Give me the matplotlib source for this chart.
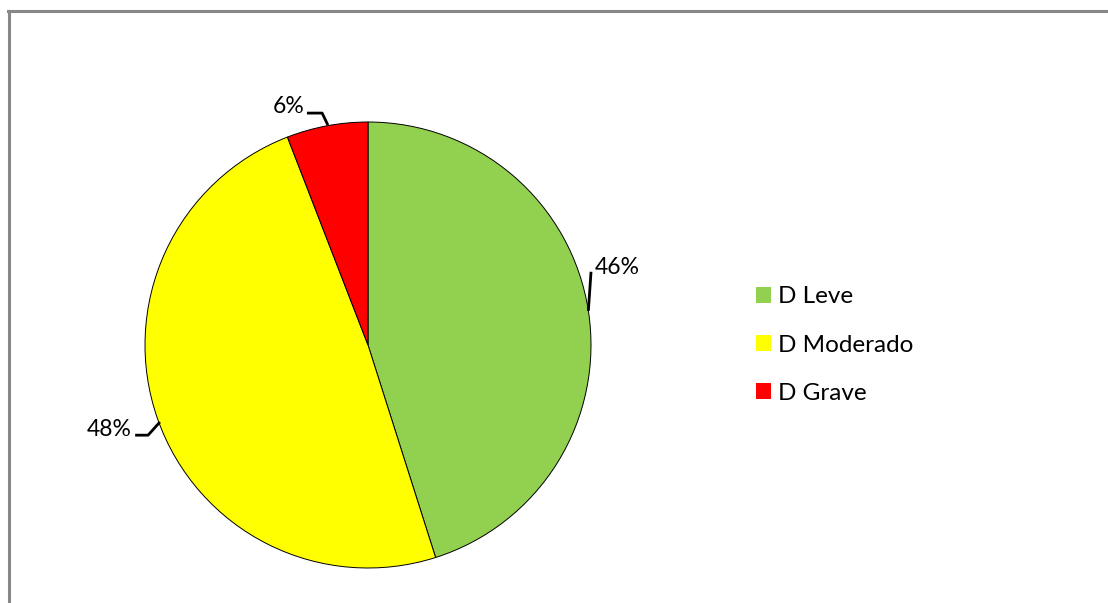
import numpy as np
import matplotlib.pyplot as plt
from matplotlib.patches import Patch
from matplotlib.lines import Line2D

labels = ["D Leve", "D Moderado", "D Grave"]
values = [23, 25, 3]
pct_labels = ["46%", "48%", "6%"]
colors = ["#92D050", "#FFFF00", "#FF0000"]

# leader line bends (relative to the wedge edge point) and text anchor, in radius units
bends = [
    [(0.0, 0.0), (0.012, 0.175)],
    [(0.01, -0.013), (-0.043, -0.072), (-0.101, -0.072)],
    [(0.004, 0.003), (-0.022, 0.057), (-0.09, 0.057)],
]
text_off = [(0.03, 0.195, "left"), (-0.119, -0.048, "right"), (-0.099, 0.086, "right")]

plt.rcParams["font.family"] = ["Lato", "DejaVu Sans"]
fig = plt.figure(figsize=(11.08, 6.03), dpi=100)

cx, cy, r = 368, 603 - 345, 223
ax = fig.add_axes([(cx - r) / 1108, (cy - r) / 603, 2 * r / 1108, 2 * r / 603])
wedges, _ = ax.pie(values, colors=colors, startangle=90, counterclock=False,
                   radius=1, wedgeprops=dict(edgecolor="black", linewidth=0.7))
ax.set_xlim(-1, 1)
ax.set_ylim(-1, 1)
ax.axis("off")

for w, lab, b, (tx, ty, ha) in zip(wedges, pct_labels, bends, text_off):
    mid = np.deg2rad((w.theta1 + w.theta2) / 2)
    px, py = np.cos(mid), np.sin(mid)
    xs = [px + dx for dx, dy in b]
    ys = [py + dy for dx, dy in b]
    ax.plot(xs, ys, color="black", lw=2, clip_on=False, solid_capstyle="butt")
    ax.text(px + tx, py + ty, lab, ha=ha, va="center", fontsize=16.5, color="black")

handles = [Patch(facecolor=c, edgecolor="none") for c in colors]
fig.legend(handles, labels, loc="center left", bbox_to_anchor=(756 / 1108, cy / 603),
           bbox_transform=fig.transFigure, frameon=False, fontsize=17.5,
           handlelength=0.62, handleheight=0.62, handletextpad=0.3,
           labelspacing=1.12, borderpad=0, borderaxespad=0)

# chart area frame (cut off at right and bottom)
fig.add_artist(Line2D([8.5 / 1108, 8.5 / 1108], [0, (603 - 11) / 603], color="#888888", lw=2.2,
                      transform=fig.transFigure))
fig.add_artist(Line2D([7.5 / 1108, 1], [(603 - 11) / 603, (603 - 11) / 603], color="#888888", lw=2.2,
                      transform=fig.transFigure))

fig.savefig("out.png", dpi=100)
